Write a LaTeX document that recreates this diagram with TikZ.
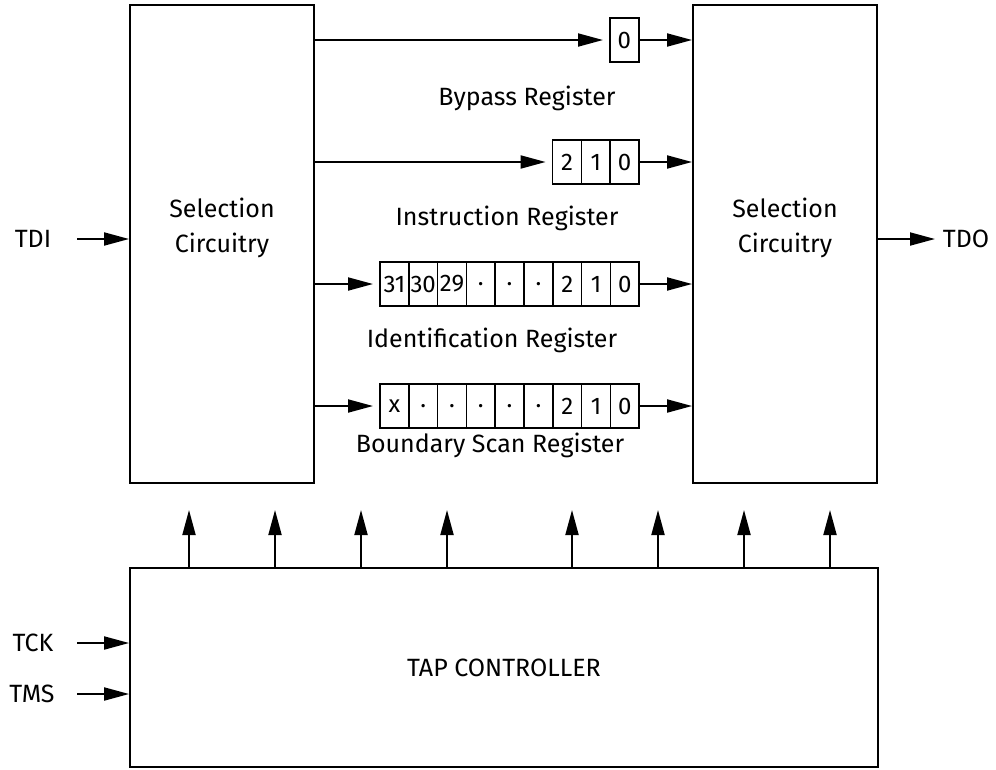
\documentclass[tikz,border=0pt]{standalone}
\usepackage{fontspec}
\setmainfont{Fira Sans}
\usetikzlibrary{arrows.meta}
\begin{document}
\begin{tikzpicture}[x=1pt,y=-1pt, line width=1.9pt,
 arr/.style={-{Triangle[length=25pt,width=13pt]}},
 box/.style={draw, line width=1.9pt, inner sep=0pt},
 cell/.style={draw, line width=1.7pt, minimum width=28.8pt, minimum height=44pt, inner sep=0pt, outer sep=0pt, anchor=west, font=\fontsize{24}{24}\selectfont},
 lbl/.style={font=\fontsize{25}{35}\selectfont, align=center, inner sep=0pt}]
\useasboundingbox (0,0) rectangle (996,769);
% big boxes
\node[box, minimum width=184pt, minimum height=478pt] (lsel) at (222,244) {};
\node[box, minimum width=184pt, minimum height=478pt] (rsel) at (785,244) {};
\node[box, minimum width=748pt, minimum height=199pt] (tap) at (504,667.5) {};
\node[lbl] (lselt) at (222,228) {Selection\\Circuitry};
\node[lbl] (rselt) at (785,228) {Selection\\Circuitry};
\node[lbl] (tapt) at (504,668) {TAP CONTROLLER};
% bypass
\node[cell] (b0) at (610,40) {0};
\node[lbl] (bypl) at (527,98) {Bypass Register};
% instruction
\node[cell] (i2) at (552.6,162) {2};
\node[cell] (i1) at (i2.east) {1};
\node[cell] (i0) at (i1.east) {0};
\node[lbl] (insl) at (507,218) {Instruction Register};
% identification
\node[cell] (d1) at (380,284) {31};
\node[cell] (d2) at (d1.east) {30};
\node[cell] (d3) at (d2.east) {29};
\node[cell] (d4) at (d3.east) {.};
\node[cell] (d5) at (d4.east) {.};
\node[cell] (d6) at (d5.east) {.};
\node[cell] (d7) at (d6.east) {2};
\node[cell] (d8) at (d7.east) {1};
\node[cell] (d9) at (d8.east) {0};
\node[lbl] (idl) at (492,340) {Identification Register};
% boundary scan
\node[cell] (s1) at (380,406) {x};
\node[cell] (s2) at (s1.east) {.};
\node[cell] (s3) at (s2.east) {.};
\node[cell] (s4) at (s3.east) {.};
\node[cell] (s5) at (s4.east) {.};
\node[cell] (s6) at (s5.east) {.};
\node[cell] (s7) at (s6.east) {2};
\node[cell] (s8) at (s7.east) {1};
\node[cell] (s9) at (s8.east) {0};
\node[lbl] (bsl) at (490,445) {Boundary Scan Register};
% register arrows
\foreach \a/\b in {b0/b0, i2/i0, d1/d9, s1/s9}{
  \draw[arr] (lsel.east |- \a.west) -- ([xshift=-7pt]\a.west);
  \draw[arr] (\b.east) -- (rsel.west |- \b.east);
}
% TDI / TDO
\node[lbl] (tdi) at (33,239) {TDI};
\node[lbl] (tdo) at (966,239) {TDO};
\coordinate (tdis) at (77,239);
\coordinate (tdoe) at (935,239);
\draw[arr] (tdis) -- (lsel.west |- tdis);
\draw[arr] (rsel.east |- tdoe) -- (tdoe);
% TCK / TMS
\node[lbl] (tck) at (33,643) {TCK};
\node[lbl] (tms) at (32,694) {TMS};
\coordinate (tcks) at (77,643);
\coordinate (tmss) at (77,694);
\draw[arr] (tcks) -- (tap.west |- tcks);
\draw[arr] (tmss) -- (tap.west |- tmss);
% control arrows
\foreach \x [count=\i] in {189,275,361,447,572,658,744,830}{
  \coordinate (c\i) at (\x,510);
  \draw[arr] (tap.north -| c\i) -- (c\i);
}
\end{tikzpicture}
\end{document}
